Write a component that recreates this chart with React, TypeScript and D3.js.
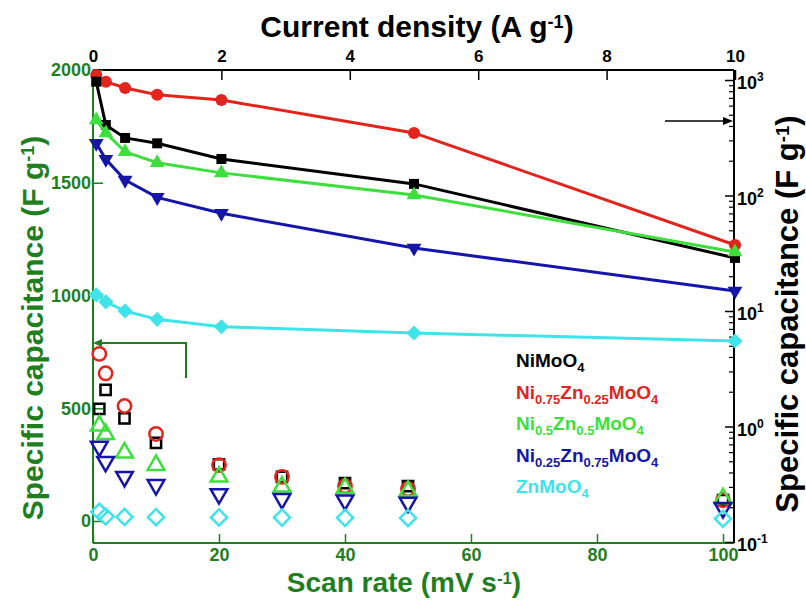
import React, { useRef, useEffect } from 'react'
import * as d3 from 'd3'

// current density (A g-1) for the filled, joined series -> top axis / right log axis
const densities = [0.05, 0.2, 0.5, 1, 2, 5, 10]
const niMoDensityCap = [967, 408, 315, 283, 207, 126, 28.8]
const ni75DensityCap = [1104, 967, 853, 746, 671, 348, 37.3]
const ni50DensityCap = [451, 348, 239, 192, 157, 101, 32.4]
const ni25DensityCap = [283, 206, 136, 96.4, 70.1, 35.1, 14.9]
const znMoDensityCap = [13.8, 12.0, 10.0, 8.47, 7.31, 6.45, 5.5]

// scan rate (mV s-1) for the open markers -> bottom axis / left axis
const scanRates = [1, 2, 5, 10, 20, 30, 40, 50, 100]
const niMoScanCap = [497, 581, 455, 347, 251, 196, 168, 155, 93]
const ni75ScanCap = [741, 655, 510, 386, 248, 196, 155, 142, 92]
const ni50ScanCap = [423, 385, 303, 248, 196, 152, 146, 133, 100]
const ni25ScanCap = [330, 263, 196, 160, 120, 98, 92, 82, 58]
const znMoScanCap = [41, 20, 18, 17, 16, 15, 14, 13, 10]

const topTicks = [0, 2, 4, 6, 8, 10]
const bottomTicks = [0, 20, 40, 60, 80, 100]
const leftTicks = [0, 500, 1000, 1500, 2000]
const rightExps = [-1, 0, 1, 2, 3]

// legend text pieces: [text, isSubscript]
const legendLabels: [string, boolean][][] = [
  [['NiMoO', false], ['4', true]],
  [['Ni', false], ['0.75', true], ['Zn', false], ['0.25', true], ['MoO', false], ['4', true]],
  [['Ni', false], ['0.5', true], ['Zn', false], ['0.5', true], ['MoO', false], ['4', true]],
  [['Ni', false], ['0.25', true], ['Zn', false], ['0.75', true], ['MoO', false], ['4', true]],
  [['ZnMoO', false], ['4', true]],
]

const colors = ['#000000', '#e3241d', '#3ddf3d', '#1515aa', '#3fe3ea']
const shapes = ['square', 'circle', 'up', 'down', 'diamond']
const densitySeries = [niMoDensityCap, ni75DensityCap, ni50DensityCap, ni25DensityCap, znMoDensityCap]
const scanSeries = [niMoScanCap, ni75ScanCap, ni50ScanCap, ni25ScanCap, znMoScanCap]

const axisGreen = '#1f7f1f'
const font = "'Liberation Sans', Arial, sans-serif"

const symbolFor = (shape: string, big: boolean) => {
  if (shape === 'circle') return d3.symbol(d3.symbolCircle, big ? 140 : 115)()
  if (shape === 'square') return d3.symbol(d3.symbolSquare, big ? 105 : 100)()
  if (shape === 'diamond') return d3.symbol(d3.symbolSquare, big ? 130 : 115)()
  return d3.symbol(d3.symbolTriangle, big ? 120 : 95)()
}
const rotFor = (shape: string) => (shape === 'down' ? 180 : shape === 'diamond' ? 45 : 0)

const Chart = ({ width, height }: { width: number; height: number }) => {
  const ref = useRef<SVGSVGElement>(null)

  useEffect(() => {
    const svg = d3.select(ref.current)
    svg.selectAll('*').remove()

    const xTop = d3.scaleLinear().domain([0, 10]).range([93, 735])
    const xBot = d3.scaleLinear().domain([0, 100]).range([93, 723])
    const yLeft = d3.scaleLinear().domain([0, 2000]).range([521, 70])
    const yRight = d3.scaleLog().domain([0.1, 1000]).range([542, 80])
    const left = 93, right = 734, top = 70, bottom = 543

    // frame
    svg.append('line').attr('x1', left).attr('x2', right).attr('y1', top).attr('y2', top).attr('stroke', '#000').attr('stroke-width', 2)
    svg.append('line').attr('x1', right).attr('x2', right).attr('y1', top).attr('y2', bottom).attr('stroke', '#000').attr('stroke-width', 2)
    svg.append('line').attr('x1', left).attr('x2', left).attr('y1', top).attr('y2', bottom).attr('stroke', axisGreen).attr('stroke-width', 2)
    svg.append('line').attr('x1', left).attr('x2', right).attr('y1', bottom).attr('y2', bottom).attr('stroke', axisGreen).attr('stroke-width', 2)

    // top axis
    const gTop = svg.append('g').attr('transform', `translate(0,${top})`)
      .call(d3.axisTop(xTop).tickValues(topTicks).tickSize(-10).tickSizeOuter(0).tickPadding(8).tickFormat(d3.format('d')))
    gTop.select('.domain').remove()
    gTop.selectAll('line').attr('stroke', '#000').attr('stroke-width', 1.5)
    gTop.selectAll('text').attr('fill', '#000').style('font', `bold 17px ${font}`)

    // bottom axis
    const gBot = svg.append('g').attr('transform', `translate(0,${bottom})`)
      .call(d3.axisBottom(xBot).tickValues(bottomTicks).tickSize(-9).tickSizeOuter(0).tickPadding(5).tickFormat(d3.format('d')))
    gBot.select('.domain').remove()
    gBot.selectAll('line').attr('stroke', axisGreen).attr('stroke-width', 1.5)
    gBot.selectAll('text').attr('fill', axisGreen).style('font', `bold 18px ${font}`)

    // left axis
    const gLeft = svg.append('g').attr('transform', `translate(${left},0)`)
      .call(d3.axisLeft(yLeft).tickValues(leftTicks).tickSize(-10).tickSizeOuter(0).tickPadding(2).tickFormat(d3.format('d')))
    gLeft.select('.domain').remove()
    gLeft.selectAll('line').attr('stroke', axisGreen).attr('stroke-width', 1.5)
    gLeft.selectAll('text').attr('fill', axisGreen).style('font', `bold 18px ${font}`)

    // right log axis: minor then major ticks
    const minor: number[] = []
    rightExps.slice(0, -1).forEach(e => { for (let m = 2; m <= 9; m++) minor.push(m * Math.pow(10, e)) })
    const gRm = svg.append('g').attr('transform', `translate(${right},0)`)
      .call(d3.axisRight(yRight).tickValues(minor).tickSize(-5).tickSizeOuter(0).tickFormat(() => ''))
    gRm.select('.domain').remove()
    gRm.selectAll('line').attr('stroke', '#000').attr('stroke-width', 1.2)
    const majors = rightExps.map(e => Math.pow(10, e))
    const gR = svg.append('g').attr('transform', `translate(${right},0)`)
      .call(d3.axisRight(yRight).tickValues(majors).tickSize(-9).tickSizeOuter(0).tickFormat(() => ''))
    gR.select('.domain').remove()
    gR.selectAll('line').attr('stroke', '#000').attr('stroke-width', 1.5)
    rightExps.forEach(e => {
      const t = svg.append('text').attr('x', right + 3).attr('y', yRight(Math.pow(10, e)) + 9)
        .attr('fill', '#000').style('font', `bold 18px ${font}`)
      t.append('tspan').text('10')
      t.append('tspan').attr('dy', -8).style('font-size', '12px').text(String(e))
    })

    // axis titles
    const sup = (t: any, base: string, s: string, end: string) => {
      t.append('tspan').text(base)
      t.append('tspan').attr('dy', '-0.5em').style('font-size', '0.6em').text(s)
      t.append('tspan').attr('dy', '0.3em').text(end)
    }
    sup(svg.append('text').attr('x', 417).attr('y', 37).attr('text-anchor', 'middle')
      .attr('fill', '#000').style('font', `bold 30px ${font}`), 'Current density (A g', '-1', ')')
    sup(svg.append('text').attr('x', 404).attr('y', 592).attr('text-anchor', 'middle')
      .attr('fill', axisGreen).style('font', `bold 28px ${font}`), 'Scan rate (mV s', '-1', ')')
    sup(svg.append('text').attr('transform', 'translate(43,328) rotate(-90)').attr('text-anchor', 'middle')
      .attr('fill', axisGreen).style('font', `bold 30px ${font}`), 'Specific capacitance (F g', '-1', ')')
    sup(svg.append('text').attr('transform', 'translate(798,314) rotate(-90)').attr('text-anchor', 'middle')
      .attr('fill', '#000').style('font', `bold 31px ${font}`), 'Specific capacitance (F g', '-1', ')')

    // axis pointers
    svg.append('path').attr('d', `M186,378V343H99`).attr('fill', 'none').attr('stroke', axisGreen).attr('stroke-width', 2)
    svg.append('path').attr('d', 'M93,343L102,339L102,347Z').attr('fill', axisGreen)
    svg.append('line').attr('x1', 665).attr('x2', 726).attr('y1', 121).attr('y2', 121).attr('stroke', '#000').attr('stroke-width', 1.5)
    svg.append('path').attr('d', 'M733,121L723,117L723,125Z').attr('fill', '#000')

    // joined series (current density, right axis)
    const line = d3.line<number>().x((d, i) => xTop(densities[i])).y(d => yRight(d))
    const drawOrder = [1, 0, 2, 3, 4]
    drawOrder.forEach(k => {
      const g = svg.append('g')
      g.append('path').attr('d', line(densitySeries[k])).attr('fill', 'none')
        .attr('stroke', colors[k]).attr('stroke-width', 3)
      g.selectAll('path.m').data(densitySeries[k]).enter().append('path').attr('class', 'm')
        .attr('d', symbolFor(shapes[k], false))
        .attr('transform', (d, i) => `translate(${xTop(densities[i])},${yRight(d)}) rotate(${rotFor(shapes[k])})`)
        .attr('fill', colors[k])
    })

    // open markers (scan rate, left axis)
    ;[0, 1, 2, 3, 4].forEach(k => {
      svg.append('g').selectAll('path').data(scanSeries[k]).enter().append('path')
        .attr('d', symbolFor(shapes[k], true))
        .attr('transform', (d, i) => `translate(${xBot(scanRates[i])},${yLeft(d)}) rotate(${rotFor(shapes[k])})`)
        .attr('fill', 'none').attr('stroke', colors[k]).attr('stroke-width', 2.5)
    })

    // legend
    legendLabels.forEach((parts, k) => {
      const t = svg.append('text').attr('x', 516).attr('y', 367 + k * 31.6)
        .attr('fill', colors[k]).style('font', `bold 19px ${font}`)
      let shifted = false
      parts.forEach(([s, sub]) => {
        const sp = t.append('tspan').text(s)
        if (sub && !shifted) { sp.attr('dy', 5).style('font-size', '13px'); shifted = true }
        else if (!sub && shifted) { sp.attr('dy', -5); shifted = false }
        else if (sub) sp.style('font-size', '13px')
      })
    })
  }, [])

  return <svg ref={ref} width={width} height={height} style={{ position: 'absolute', left: 0, top: 0, background: '#fff' }} />
}

export default function App() {
  return <Chart width={806} height={600} />
}
